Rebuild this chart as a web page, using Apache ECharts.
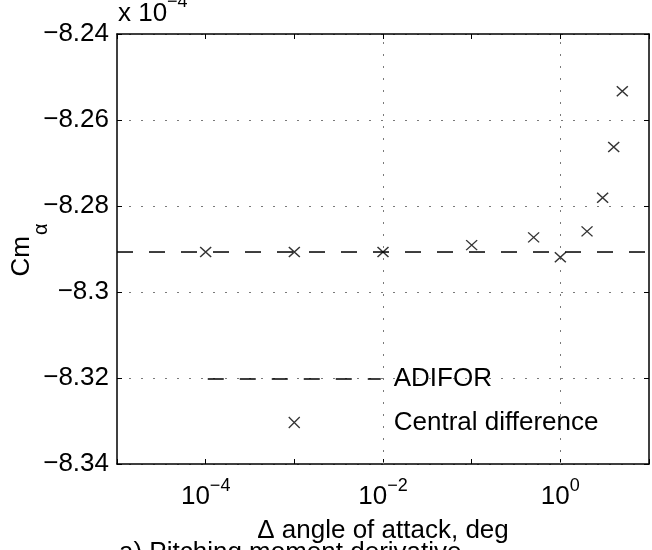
<!DOCTYPE html>
<html>
<head>
<meta charset="utf-8">
<script src="https://cdn.jsdelivr.net/npm/echarts@6/dist/echarts.min.js"></script>
<style>
html,body{margin:0;padding:0;background:#fff;}
#c{width:652px;height:550px;}
</style>
</head>
<body>
<div id="c"></div>
<script>
// ---- data ----
const stepSizes = [1e-4, 1e-3, 1e-2, 1e-1, 0.5, 1, 2, 3, 4, 5];
const centralDiff = [-8.2907, -8.2907, -8.2907, -8.2891, -8.2873, -8.2919, -8.2859, -8.2781, -8.2663, -8.2533];
const adiforX = [1e-5, 1e1];
const adiforValue = -8.2907;
const xLabelExponents = [-4, -2, 0];
const xGridValues = [1e-4, 1e-2, 1];
const seriesNames = ['ADIFOR', 'Central difference'];
const yTitle = 'Cm';
const yTitleSub = 'α';
const xTitle = 'Δ angle of attack, deg';
const caption = 'a) Pitching moment derivative';
const multiplierBase = 'x 10';
const multiplierExp = '−4';

// ---- chart ----
const FONT = '"Liberation Sans", Arial, Helvetica, sans-serif';
const FS = 26;
const GRID_COLOR = '#7a7a7a';
const GRID_DASH = [2, 10];
const AXIS_W = 1.5;

const chart = echarts.init(document.getElementById('c'), null, {renderer: 'canvas'});

const adiforData = adiforX.map(x => [x, adiforValue]);
const cdData = stepSizes.map((x, i) => [x, centralDiff[i]]);

const xLog = {
  type: 'log', logBase: 10, min: 1e-5, max: 1e1, interval: 1, splitNumber: 6
};

function fmtY(v) {
  const r = Number(v.toFixed(4));
  return (r < 0 ? '−' : '') + Math.abs(r).toString();
}

const xMarker = 'path://M0,0L10,10M10,0L0,10';
const legendMarker = 'path://M0,0M6.5,6.5L17.5,17.5M17.5,6.5L6.5,17.5M24,24';

const option = {
  animation: false,
  backgroundColor: '#fff',
  grid: {left: 117, right: 2, top: 34, bottom: 86, containLabel: false},
  xAxis: [
    Object.assign({}, xLog, {
      position: 'bottom',
      name: xTitle,
      nameLocation: 'middle',
      nameGap: 54,
      nameTextStyle: {fontSize: FS, fontFamily: FONT, color: '#000'},
      axisLine: {show: true, lineStyle: {color: '#000', width: AXIS_W}},
      axisTick: {show: true, inside: true, length: 5, lineStyle: {color: '#000', width: 1}},
      axisLabel: {
        show: true, margin: 13, color: '#000', fontFamily: FONT,
        formatter: function (v) {
          const e = Math.round(Math.log10(v));
          if (xLabelExponents.indexOf(e) < 0) return '';
          return '{b|10}{s|' + (e < 0 ? '−' : '') + Math.abs(e) + '}';
        },
        rich: {
          b: {fontSize: FS, fontFamily: FONT, color: '#000', lineHeight: 40},
          s: {fontSize: 18, fontFamily: FONT, color: '#000', lineHeight: 18, verticalAlign: 'top'}
        }
      },
      splitLine: {show: false},
      minorTick: {show: false}
    }),
    Object.assign({}, xLog, {
      position: 'top',
      axisLine: {show: true, lineStyle: {color: '#000', width: AXIS_W}},
      axisTick: {show: true, inside: true, length: 5, lineStyle: {color: '#000', width: 1}},
      axisLabel: {show: false},
      splitLine: {show: false}
    })
  ],
  yAxis: [
    {
      type: 'value', min: -8.34, max: -8.24, interval: 0.02, position: 'left',
      axisLine: {show: true, lineStyle: {color: '#000', width: AXIS_W}},
      axisTick: {show: true, inside: true, length: 5, lineStyle: {color: '#000', width: 1}},
      axisLabel: {show: true, margin: 8, fontSize: FS, fontFamily: FONT, color: '#000', formatter: fmtY},
      splitLine: {show: true, lineStyle: {color: GRID_COLOR, width: 1, type: GRID_DASH}}
    },
    {
      type: 'value', min: -8.34, max: -8.24, interval: 0.02, position: 'right',
      axisLine: {show: true, lineStyle: {color: '#000', width: AXIS_W}},
      axisTick: {show: true, inside: true, length: 5, lineStyle: {color: '#000', width: 1}},
      axisLabel: {show: false},
      splitLine: {show: false}
    }
  ],
  legend: {
    orient: 'vertical', left: 207, top: 366, padding: 0,
    itemWidth: 173, itemHeight: 24, itemGap: 16,
    selectedMode: false,
    textStyle: {fontSize: FS, fontFamily: FONT, color: '#000', lineHeight: 24, padding: [0, 0, 0, 8]},
    data: [
      {name: seriesNames[0],
       itemStyle: {color: 'rgba(0,0,0,0)', borderWidth: 0, opacity: 0},
       lineStyle: {width: 1.5, type: [16, 16], color: '#000'}},
      {name: seriesNames[1], icon: legendMarker,
       itemStyle: {color: 'none', borderColor: '#000', borderWidth: 1.3}}
    ]
  },
  series: [
    {
      name: seriesNames[0], type: 'line', xAxisIndex: 0, yAxisIndex: 0,
      data: adiforData, symbol: 'none', silent: true,
      lineStyle: {color: '#000', width: 1.5, type: [16, 16]},
      itemStyle: {color: '#000'},
      z: 3
    },
    {
      name: seriesNames[1], type: 'scatter', xAxisIndex: 0, yAxisIndex: 0,
      data: cdData, symbol: xMarker, symbolSize: [11, 10], silent: true,
      itemStyle: {color: 'none', borderColor: '#000', borderWidth: 1.4},
      z: 4,
      markLine: {
        silent: true, symbol: ['none', 'none'], label: {show: false},
        lineStyle: {color: GRID_COLOR, width: 1, type: GRID_DASH},
        data: xGridValues.map(v => ({xAxis: v})),
        z: 1
      }
    }
  ],
  graphic: [
    {type: 'text', x: 118, y: 14, silent: true,
     style: {text: multiplierBase, font: FS + 'px ' + FONT, fill: '#000', verticalAlign: 'middle', align: 'left'}},
    {type: 'text', x: 167, y: 2, silent: true,
     style: {text: multiplierExp, font: '18px ' + FONT, fill: '#000', verticalAlign: 'middle', align: 'left'}},
    {type: 'text', x: 119, y: 553, silent: true,
     style: {text: caption, font: FS + 'px ' + FONT, fill: '#000', verticalAlign: 'middle', align: 'left'}},
    {type: 'group', x: 21.5, y: 236, rotation: Math.PI / 2, silent: true,
     children: [
       {type: 'text', x: 0, y: 0,
        style: {text: yTitle, font: FS + 'px ' + FONT, fill: '#000', verticalAlign: 'middle', align: 'right'}},
       {type: 'text', x: 1, y: 20,
        style: {text: yTitleSub, font: '20px ' + FONT, fill: '#000', verticalAlign: 'middle', align: 'left'}}
     ]}
  ]
};

chart.setOption(option);
</script>
</body>
</html>
